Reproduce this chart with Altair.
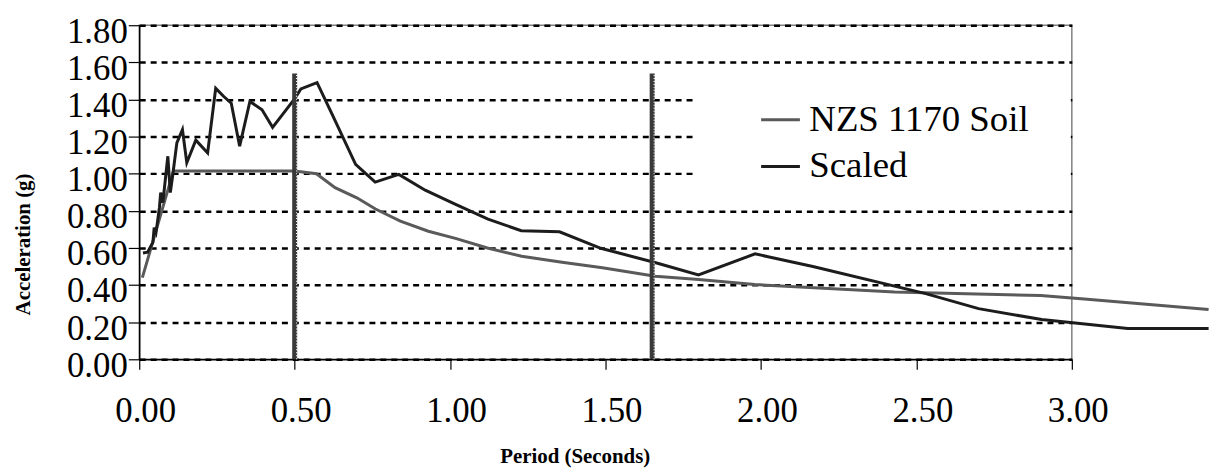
import altair as alt
import pandas as pd

# ---- data ----
series_names = ["NZS 1170 Soil", "Scaled"]
series_colors = ["#5a5a5a", "#1c1c1c"]

nzs_period = [0.01, 0.11, 0.50, 0.57, 0.63, 0.70, 0.76, 0.84, 0.93, 1.02, 1.12,
              1.23, 1.36, 1.49, 1.66, 1.80, 1.98, 2.43, 2.90, 3.04, 3.44]
nzs_accel = [0.44, 1.015, 1.015, 1.00, 0.925, 0.87, 0.81, 0.745, 0.69, 0.65, 0.60,
             0.555, 0.523, 0.493, 0.448, 0.43, 0.403, 0.362, 0.344, 0.325, 0.268]

scaled_period = [0.012, 0.027, 0.035, 0.044, 0.048, 0.054, 0.065, 0.069, 0.076, 0.092,
                 0.100, 0.108, 0.121, 0.139, 0.153, 0.182, 0.220, 0.246, 0.272, 0.296,
                 0.323, 0.356, 0.395, 0.429, 0.499, 0.520, 0.572, 0.621, 0.696, 0.759,
                 0.835, 0.920, 1.016, 1.122, 1.229, 1.352, 1.485, 1.656, 1.799, 1.981,
                 2.167, 2.530, 2.700, 2.903, 3.180, 3.44]
scaled_accel = [0.573, 0.577, 0.603, 0.630, 0.710, 0.684, 0.818, 0.898, 0.844, 1.094,
                0.898, 0.996, 1.166, 1.237, 1.059, 1.181, 1.112, 1.460, 1.416, 1.380,
                1.148, 1.389, 1.345, 1.250, 1.402, 1.457, 1.491, 1.318, 1.050, 0.955,
                0.996, 0.911, 0.836, 0.755, 0.693, 0.687, 0.598, 0.523, 0.455, 0.568,
                0.500, 0.354, 0.273, 0.214, 0.166, 0.166]

marker_period = [0.50, 1.65]
marker_top = [1.54, 1.54]

x_ticks = [0.0, 0.5, 1.0, 1.5, 2.0, 2.5, 3.0]
y_ticks = [0.0, 0.2, 0.4, 0.6, 0.8, 1.0, 1.2, 1.4, 1.6, 1.8]

# ---- tables ----
df = pd.concat([
    pd.DataFrame({"series": series_names[0], "period": nzs_period, "accel": nzs_accel}),
    pd.DataFrame({"series": series_names[1], "period": scaled_period, "accel": scaled_accel}),
], ignore_index=True)

df_m = pd.DataFrame({"period": marker_period, "low": [0.0] * len(marker_period), "accel": marker_top})

FONT = "Liberation Serif"

x_axis = alt.Axis(values=x_ticks, format=".2f", grid=False, labelFlush=False,
                  labelOverlap=False, labelPadding=25, labelOffset=6, tickSize=10,
                  titleX=438, titleY=104, titleBaseline="alphabetic")
y_axis = alt.Axis(values=y_ticks, format=".2f", grid=True, gridColor="black",
                  gridDash=[6, 5], gridWidth=2.5, labelFlush=False, labelOverlap=False,
                  labelPadding=1, labelOffset=6, tickSize=11,
                  titleX=-110, titleY=220, titleBaseline="alphabetic")

x_scale = alt.Scale(domain=[0, 3], nice=False, zero=False)
y_scale = alt.Scale(domain=[0, 1.8], nice=False)

lines = alt.Chart(df).mark_line(strokeWidth=3).encode(
    x=alt.X("period:Q", scale=x_scale, axis=x_axis, title="Period (Seconds)"),
    y=alt.Y("accel:Q", scale=y_scale, axis=y_axis, title="Acceleration (g)"),
    color=alt.Color(
        "series:N",
        scale=alt.Scale(domain=series_names, range=series_colors),
        legend=alt.Legend(
            orient="none", legendX=561, legendY=54,
            title="\u00a0", titleOrient="right", titleFontSize=2, titlePadding=22,
            symbolType="stroke", symbolSize=1521, symbolStrokeWidth=3,
            labelFont=FONT, labelFontSize=37, labelColor="black",
            labelLimit=500, labelOffset=8, rowPadding=8,
            fillColor="white", padding=20, symbolOffset=43,
        ),
    ),
    order="period:Q",
)

marker_enc = dict(
    x=alt.X("period:Q", scale=x_scale, axis=x_axis, title="Period (Seconds)"),
    y=alt.Y("low:Q", scale=y_scale, axis=y_axis, title="Acceleration (g)"),
    y2="accel:Q",
)
markers = alt.Chart(df_m).mark_rule(color="#3a3a3a", strokeWidth=5).encode(**marker_enc)
marker_notches = alt.Chart(df_m).mark_rule(
    color="white", strokeWidth=1.2, strokeDash=[1, 2], xOffset=2
).encode(**marker_enc)

chart = alt.layer(lines, markers, marker_notches).properties(
    width=938, height=336,
    padding={"left": 5, "top": 5, "right": 0, "bottom": 0},
    background="white",
).configure_view(
    stroke="#808080", strokeWidth=1.5
).configure_axis(
    labelFont=FONT, labelFontSize=35, labelColor="black",
    titleFont=FONT, titleFontSize=21, titleFontWeight="bold", titleColor="black",
    domainColor="black", domainWidth=1.5, tickColor="black", tickWidth=1.2,
)

chart.save("out.html", embed_options={"renderer": "svg", "actions": False})
